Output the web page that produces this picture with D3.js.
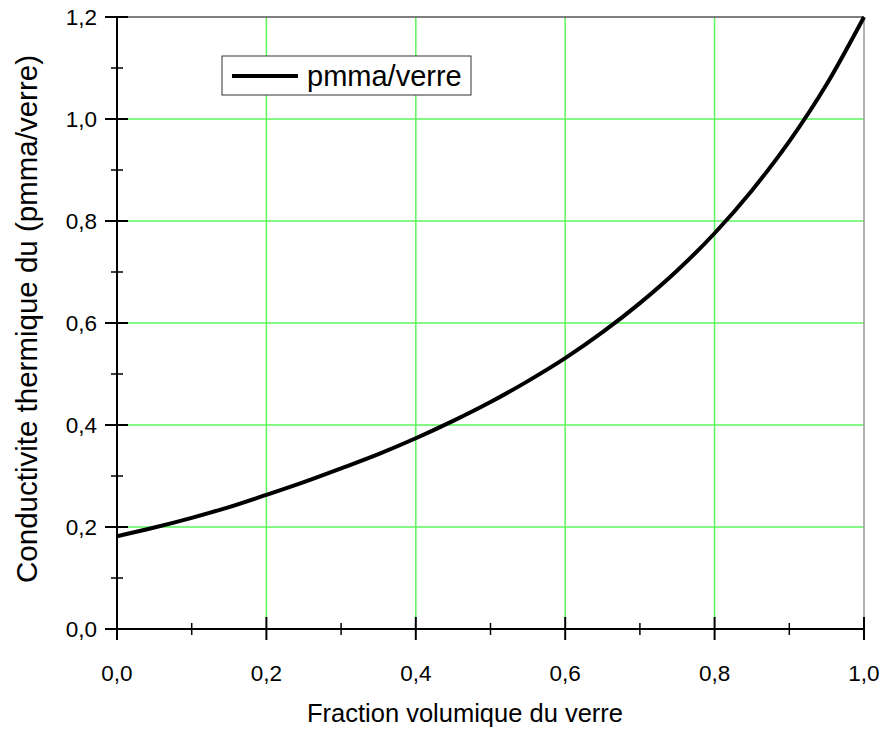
<!DOCTYPE html>
<html><head><meta charset="utf-8">
<script src="https://cdn.jsdelivr.net/npm/d3@7"></script>
<style>body{margin:0;background:#fff}svg{display:block}text{font-family:"Liberation Sans",Arial,sans-serif;fill:#000}</style>
</head><body>
<svg id="c" width="888" height="729"></svg>
<script>
const fraction = [0,0.05,0.1,0.15,0.2,0.25,0.3,0.35,0.4,0.45,0.5,0.55,0.6,0.65,0.7,0.75,0.8,0.85,0.9,0.95,1.0];
const conductivite = [0.182,0.199,0.218,0.239,0.263,0.288,0.315,0.343,0.374,0.408,0.445,0.486,0.531,0.582,0.639,0.703,0.776,0.86,0.956,1.068,1.2];
const xTicks = [0,0.2,0.4,0.6,0.8,1.0];
const yTicks = [0,0.2,0.4,0.6,0.8,1.0,1.2];
const xMinor = [0.1,0.3,0.5,0.7,0.9];
const yMinor = [0.1,0.3,0.5,0.7,0.9,1.1];
const seriesName = "pmma/verre";
const xTitle = "Fraction volumique du verre";
const yTitle = "Conductivite thermique du (pmma/verre)";

const svg = d3.select("#c");
const L=117, R=864, T=17, B=629;
const x = d3.scaleLinear().domain([0,1]).range([L,R]);
const y = d3.scaleLinear().domain([0,1.2]).range([B,T]);
const fmt = d => d3.format(".1f")(d).replace(".", ",");

// grid
const green = "#5cf55c";
svg.append("g").selectAll("line").data(xTicks.filter(d=>d>0&&d<1)).join("line")
  .attr("x1",d=>x(d)).attr("x2",d=>x(d)).attr("y1",T).attr("y2",B-11)
  .attr("stroke",green).attr("stroke-width",1.5);
svg.append("g").selectAll("line").data(yTicks.filter(d=>d>0&&d<1.2)).join("line")
  .attr("y1",d=>y(d)).attr("y2",d=>y(d)).attr("x1",L+11).attr("x2",R)
  .attr("stroke",green).attr("stroke-width",1.5);

// frame top/right
svg.append("line").attr("x1",L).attr("x2",R).attr("y1",T).attr("y2",T).attr("stroke","#555").attr("stroke-width",1.5);
svg.append("line").attr("x1",R).attr("x2",R).attr("y1",T).attr("y2",B).attr("stroke","#999").attr("stroke-width",1.5);

// axes
svg.append("line").attr("x1",L).attr("x2",L).attr("y1",T).attr("y2",B).attr("stroke","#000").attr("stroke-width",2);
svg.append("line").attr("x1",L).attr("x2",R).attr("y1",B).attr("y2",B).attr("stroke","#000").attr("stroke-width",2);

// ticks
svg.append("g").selectAll("line").data(yTicks).join("line")
  .attr("x1",L-12).attr("x2",L+11).attr("y1",d=>y(d)).attr("y2",d=>y(d)).attr("stroke","#000").attr("stroke-width",2);
svg.append("g").selectAll("line").data(yMinor).join("line")
  .attr("x1",L-6).attr("x2",L+6).attr("y1",d=>y(d)).attr("y2",d=>y(d)).attr("stroke","#000").attr("stroke-width",1.5);
svg.append("g").selectAll("line").data(xTicks).join("line")
  .attr("y1",B-12).attr("y2",B+11).attr("x1",d=>x(d)).attr("x2",d=>x(d)).attr("stroke","#000").attr("stroke-width",2);
svg.append("g").selectAll("line").data(xMinor).join("line")
  .attr("y1",B-6).attr("y2",B+6).attr("x1",d=>x(d)).attr("x2",d=>x(d)).attr("stroke","#000").attr("stroke-width",1.5);

// tick labels
svg.append("g").selectAll("text").data(xTicks).join("text")
  .attr("x",d=>x(d)).attr("y",681).attr("text-anchor","middle").attr("font-size",22.5).text(fmt);
svg.append("g").selectAll("text").data(yTicks).join("text")
  .attr("x",97).attr("y",d=>y(d)+8).attr("text-anchor","end").attr("font-size",22.5).text(fmt);

// titles
svg.append("text").attr("x",465).attr("y",722).attr("text-anchor","middle").attr("font-size",25.5).text(xTitle);
svg.append("text").attr("transform","translate(37,319) rotate(-90)").attr("text-anchor","middle").attr("font-size",29.5).text(yTitle);

// curve
const line = d3.line().x((d,i)=>x(fraction[i])).y(d=>y(d)).curve(d3.curveMonotoneX);
svg.append("path").datum(conductivite).attr("d",line).attr("fill","none").attr("stroke","#000").attr("stroke-width",4);

// legend
svg.append("rect").attr("x",222).attr("y",56).attr("width",249).attr("height",39).attr("fill","#fff").attr("stroke","#333").attr("stroke-width",1);
svg.append("line").attr("x1",232).attr("x2",298).attr("y1",76).attr("y2",76).attr("stroke","#000").attr("stroke-width",4);
svg.append("text").attr("x",307).attr("y",86).attr("font-size",29).text(seriesName);
</script>
</body></html>
